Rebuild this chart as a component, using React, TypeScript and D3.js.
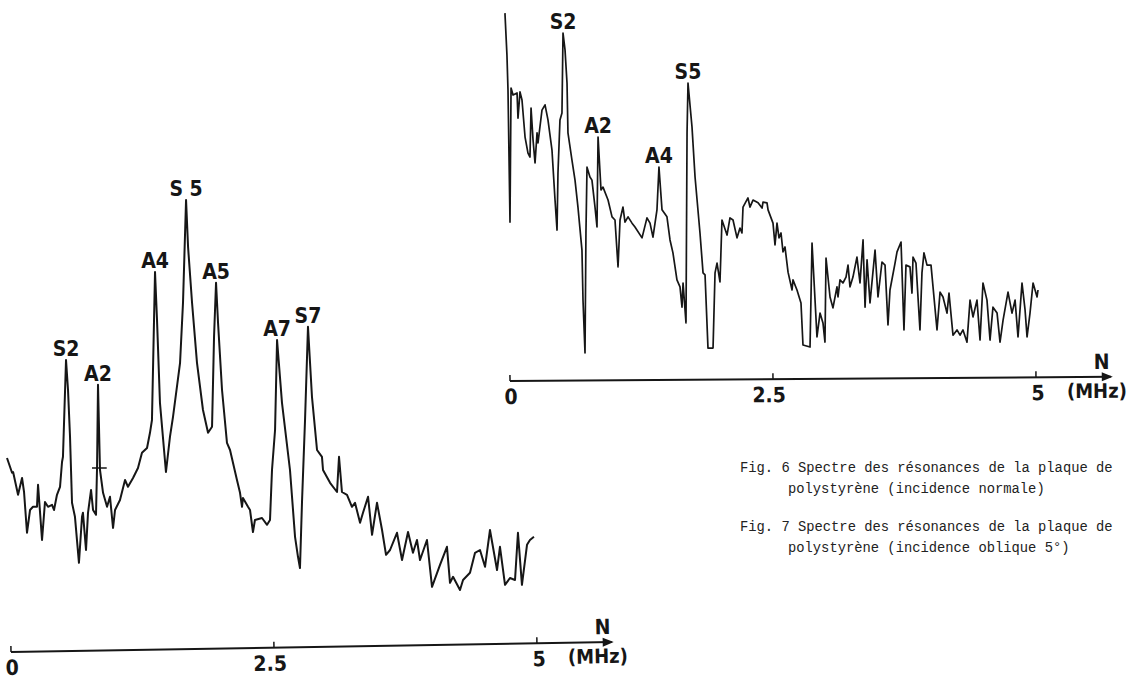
import * as d3 from 'd3';

// lower-left spectrum: [frequency (MHz), relative amplitude]
const lowerSpectrum: [number, number][] = [
  [-0.038, 35.5], [0.01, 31.8], [0.02, 32], [0.067, 26.3], [0.105, 30.5], [0.124, 27], [0.152, 16.8],
  [0.181, 22.5], [0.209, 23.3], [0.247, 23.3], [0.257, 28.8], [0.295, 15], [0.323, 24.5], [0.352, 23.3],
  [0.39, 23.8], [0.409, 22.5], [0.437, 26.3], [0.466, 28.3], [0.485, 34.5], [0.494, 35.8], [0.523, 60],
  [0.542, 52.5], [0.561, 40.8], [0.58, 24.3], [0.608, 20.8], [0.646, 9.3], [0.675, 20.8], [0.684, 21.8],
  [0.713, 12.5], [0.732, 21.8], [0.761, 27.5], [0.78, 22.5], [0.808, 21.3], [0.818, 33.3], [0.827, 53.8],
  [0.846, 32.5], [0.875, 26.8], [0.913, 23.3], [0.941, 25.8], [0.97, 18], [0.989, 22.5], [1.036, 25],
  [1.084, 30], [1.112, 28.3], [1.16, 30.5], [1.207, 33], [1.245, 36.8], [1.293, 38], [1.321, 41.8],
  [1.34, 45], [1.369, 82], [1.388, 70], [1.416, 49.3], [1.473, 32], [1.511, 40.8], [1.54, 45.8],
  [1.607, 59.3], [1.635, 74.3], [1.664, 100], [1.683, 88.3], [1.721, 74.3], [1.768, 59.3], [1.825, 47.5],
  [1.873, 41.8], [1.911, 43.3], [1.93, 65.8], [1.949, 79.3], [1.968, 69.3], [2.006, 52.5], [2.053, 39.3],
  [2.082, 37.5], [2.148, 30], [2.177, 26.8], [2.196, 23.3], [2.205, 25.5], [2.253, 23.3], [2.272, 22.5],
  [2.3, 17], [2.319, 20], [2.386, 20.5], [2.434, 18.8], [2.462, 20], [2.481, 32.5], [2.51, 42.5],
  [2.529, 65], [2.576, 49.3], [2.652, 32.5], [2.7, 15.8], [2.728, 10.8], [2.747, 8], [2.766, 24.3],
  [2.795, 45], [2.823, 68.3], [2.861, 50.8], [2.909, 37.5], [2.956, 35.8], [2.966, 32.5], [3.033, 29.3],
  [3.099, 27], [3.118, 35.8], [3.146, 27], [3.194, 26.3], [3.241, 23.3], [3.27, 24.3], [3.318, 19.3],
  [3.346, 21.8], [3.394, 25.8], [3.432, 16.3], [3.479, 24.3], [3.527, 17.5], [3.565, 11.3], [3.603, 12.5],
  [3.669, 16.8], [3.717, 10], [3.774, 17], [3.821, 11.8], [3.859, 15], [3.888, 10], [3.954, 15],
  [4.002, 3.3], [4.078, 8.8], [4.144, 13.3], [4.173, 4.3], [4.202, 5.8], [4.268, 2.5], [4.297, 5],
  [4.363, 6.8], [4.411, 11.8], [4.458, 12.5], [4.506, 8.3], [4.553, 17.5], [4.62, 7.5], [4.648, 13.3],
  [4.696, 3.8], [4.743, 5.5], [4.791, 5], [4.819, 16.8], [4.857, 3.8], [4.905, 13.8], [4.933, 15],
  [4.971, 15.8],
];

// upper-right spectrum
const upperSpectrum: [number, number][] = [
  [-0.048, 99.1], [-0.029, 87.1], [-0.019, 77.1], [0, 39.4], [0.01, 77.7], [0.029, 75.7], [0.067, 76.3],
  [0.076, 69.1], [0.095, 76.6], [0.114, 74.3], [0.143, 63.7], [0.171, 59.1], [0.19, 58], [0.2, 72],
  [0.219, 62.9], [0.238, 56.3], [0.257, 64.9], [0.266, 62], [0.304, 71.4], [0.333, 72.9], [0.361, 68.6],
  [0.399, 60], [0.428, 45.7], [0.447, 37.1], [0.456, 53.4], [0.475, 68.6], [0.494, 70.6], [0.504, 93.4],
  [0.523, 88.6], [0.542, 79.1], [0.551, 64.9], [0.589, 57.1], [0.618, 51.4], [0.646, 43.7], [0.684, 31.4],
  [0.694, 17.1], [0.713, 2], [0.722, 36.3], [0.732, 55.1], [0.76, 52.3], [0.779, 51.4], [0.808, 43.7],
  [0.827, 38], [0.837, 63.7], [0.865, 48.6], [0.884, 49.4], [0.932, 45.7], [0.97, 40.9], [0.998, 40],
  [1.027, 26.6], [1.046, 40], [1.074, 43.7], [1.093, 39.4], [1.122, 40.9], [1.16, 39.1], [1.188, 38],
  [1.255, 34.9], [1.302, 40.6], [1.331, 39.1], [1.359, 35.1], [1.397, 42.9], [1.416, 55.1], [1.445, 42.9],
  [1.492, 40.9], [1.521, 34.3], [1.549, 30.6], [1.587, 22.9], [1.616, 20.9], [1.635, 15.1], [1.645, 22],
  [1.673, 10.6], [1.683, 64.9], [1.692, 79.1], [1.73, 66.6], [1.759, 52.3], [1.806, 36.3], [1.835, 24.9],
  [1.854, 24.3], [1.882, 3.4], [1.93, 3.4], [1.949, 24.9], [1.968, 27.7], [1.996, 22.3], [2.015, 40],
  [2.063, 35.7], [2.091, 40.6], [2.12, 40], [2.158, 34.9], [2.186, 37.7], [2.205, 36.3], [2.215, 43.7],
  [2.262, 46.3], [2.281, 43.7], [2.31, 45.7], [2.358, 44.9], [2.396, 43.4], [2.405, 45.1], [2.443, 44.9],
  [2.453, 42.9], [2.5, 39.1], [2.519, 32.9], [2.538, 39.1], [2.557, 34.9], [2.576, 36.3], [2.595, 30.9],
  [2.614, 32.3], [2.643, 25.1], [2.681, 20], [2.69, 22.9], [2.728, 20], [2.766, 16.3], [2.785, 4.3],
  [2.852, 3.7], [2.871, 33.4], [2.918, 6.6], [2.947, 13.4], [2.975, 10.6], [2.994, 5.1], [3.004, 29.1],
  [3.042, 18], [3.07, 14.9], [3.108, 20.9], [3.118, 18], [3.137, 22.9], [3.165, 22], [3.194, 23.7],
  [3.213, 27.1], [3.232, 20.9], [3.26, 23.7], [3.298, 29.4], [3.327, 22], [3.356, 34.3], [3.375, 15.1],
  [3.394, 28.6], [3.422, 16.3], [3.47, 31.4], [3.498, 18], [3.536, 28], [3.565, 27.1], [3.593, 10],
  [3.612, 20], [3.66, 27.7], [3.679, 30.9], [3.717, 33.7], [3.745, 8.6], [3.764, 27.1], [3.802, 26.6],
  [3.821, 19.1], [3.831, 29.4], [3.859, 27.7], [3.897, 8.6], [3.916, 24.9], [3.935, 30.6], [3.964, 27.1],
  [4.002, 27.1], [4.059, 8.6], [4.088, 19.4], [4.116, 18], [4.154, 13.4], [4.173, 19.1], [4.211, 7.1],
  [4.249, 8.6], [4.278, 7.1], [4.306, 8.6], [4.344, 5.1], [4.373, 17.1], [4.401, 12.3], [4.439, 17.1],
  [4.468, 5.7], [4.496, 22], [4.534, 17.1], [4.563, 5.7], [4.591, 15.1], [4.63, 13.4], [4.658, 5.1],
  [4.687, 11.4], [4.734, 19.4], [4.772, 13.4], [4.801, 17.1], [4.829, 6.6], [4.867, 22], [4.896, 14.3],
  [4.915, 6.6], [4.943, 13.4], [4.972, 22], [5.01, 18], [5.019, 20],
];

// resonance labels: [name, frequency of the peak]
const lowerPeaks: [string, number][] = [
  ['S2', 0.523], ['A2', 0.827], ['A4', 1.369], ['S 5', 1.664], ['A5', 1.949], ['A7', 2.529], ['S7', 2.823],
];
const upperPeaks: [string, number][] = [
  ['S2', 0.504], ['A2', 0.837], ['A4', 1.416], ['S5', 1.692],
];

// small horizontal mark across the A2 peak of the lower spectrum: [from, to, amplitude]
const a2Mark = [0.77, 0.91, 33];

const freqTicks = [0, 2.5, 5];
const tickLabels = ['0', '2.5', '5'];
const axisName = 'N';
const axisUnit = '(MHz)';
const ARROW_END = 5.73;

const captions = [
  ['Fig. 6 Spectre des résonances de la plaque de', 'polystyrène (incidence normale)'],
  ['Fig. 7 Spectre des résonances de la plaque de', 'polystyrène (incidence oblique 5°)'],
];

const INK = '#161616';
const LABEL_FONT = "'Liberation Sans Narrow', 'DejaVu Sans Condensed', 'Liberation Sans', Arial, sans-serif";
const MONO_FONT = "'Liberation Mono', 'Courier New', monospace";

const Panel = (props: any) => {
  const { data, peaks, xRange, yRange, axisY, tilt, strokeWidth, mark } = props;
  const x = d3.scaleLinear().domain([0, 5]).range(xRange);
  const y = d3.scaleLinear().domain([0, 100]).range(yRange);
  const line = d3.line<[number, number]>().x(d => x(d[0])).y(d => y(d[1]));

  const peakAmp = (f: number) => {
    const i = d3.minIndex(data, (d: [number, number]) => Math.abs(d[0] - f));
    return data[i][1];
  };

  const tip = x(ARROW_END);
  const labelNudge = [1, -4, 2];

  return (
    <g>
      <path d={line(data) || ''} fill="none" stroke={INK} strokeWidth={strokeWidth} strokeLinejoin="round" />
      {mark && (
        <line x1={x(mark[0])} x2={x(mark[1])} y1={y(mark[2])} y2={y(mark[2])} stroke={INK} strokeWidth={1.5} />
      )}
      {peaks.map(([name, f]: [string, number]) => (
        <text key={name} x={x(f)} y={y(peakAmp(f)) - 4} textAnchor="middle"
          fontFamily={LABEL_FONT} fontWeight="bold" fontSize={21} fill={INK}>{name}</text>
      ))}
      <g transform={`rotate(${tilt}, ${x(0)}, ${axisY})`}>
        <line x1={x(0)} x2={tip - 2} y1={axisY} y2={axisY} stroke={INK} strokeWidth={2} />
        <path d={`M${tip},${axisY} L${tip - 11},${axisY - 4.5} L${tip - 11},${axisY + 4.5} Z`} fill={INK} />
        {freqTicks.map((t, i) => (
          <g key={t}>
            <line x1={x(t)} x2={x(t)} y1={axisY - 6} y2={axisY} stroke={INK} strokeWidth={1.5} />
            <text x={x(t) + labelNudge[i]} y={axisY + 23} textAnchor="middle"
              fontFamily={LABEL_FONT} fontWeight="bold" fontSize={21} fill={INK}>{tickLabels[i]}</text>
          </g>
        ))}
        <text x={tip - 11} y={axisY - 8} textAnchor="middle"
          fontFamily={LABEL_FONT} fontWeight="bold" fontSize={21} fill={INK}>{axisName}</text>
        <text x={tip - 16} y={axisY + 21} textAnchor="middle"
          fontFamily={LABEL_FONT} fontWeight="bold" fontSize={20} fill={INK}>{axisUnit}</text>
      </g>
    </g>
  );
};

export default function App() {
  const capX = 740;
  const capIndent = 48;
  const capBase = [472, 531];
  return (
    <svg width={1133} height={679} style={{ position: 'absolute', left: 0, top: 0, background: '#fff' }}>
      <Panel data={lowerSpectrum} peaks={lowerPeaks} xRange={[11, 537]} yRange={[600, 200]}
        axisY={652} tilt={-0.95} strokeWidth={2} mark={a2Mark} />
      <Panel data={upperSpectrum} peaks={upperPeaks} xRange={[510, 1036]} yRange={[360, 10]}
        axisY={381} tilt={-0.4} strokeWidth={1.7} />
      {captions.map((c, i) => (
        <g key={i} fontFamily={MONO_FONT} fontSize={13.8} fill="#222">
          <text x={capX} y={capBase[i]}>{c[0]}</text>
          <text x={capX + capIndent} y={capBase[i] + 21}>{c[1]}</text>
        </g>
      ))}
    </svg>
  );
}
